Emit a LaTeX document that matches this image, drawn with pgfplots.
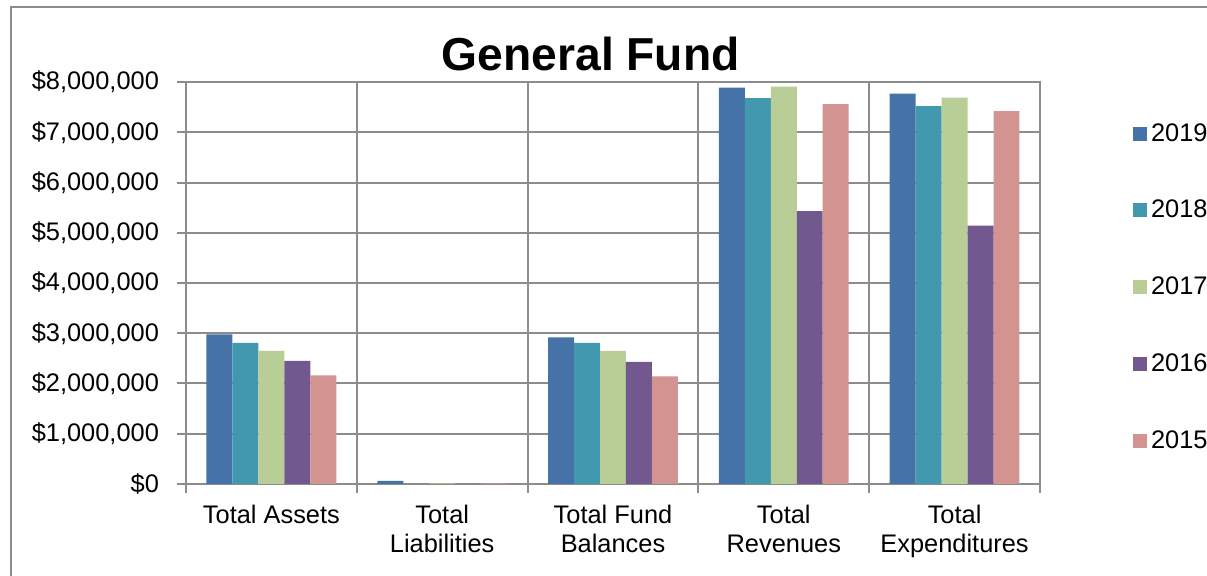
\documentclass[border=0pt]{standalone}
\usepackage{pgfplots}
\pgfplotsset{compat=1.18}
\usepackage{fontspec}
\setmainfont{Liberation Sans}

\definecolor{c2019}{HTML}{4572A7}
\definecolor{c2018}{HTML}{4198AF}
\definecolor{c2017}{HTML}{B9CE96}
\definecolor{c2016}{HTML}{71588F}
\definecolor{c2015}{HTML}{D39391}
\definecolor{gridgray}{HTML}{8C8C8C}

\begin{document}
\begin{tikzpicture}[font=\fontsize{12.7}{14.5}\selectfont]
\useasboundingbox (0,0) rectangle (603.5pt,288pt);
\clip (0,0) rectangle (603.5pt,288pt);
\draw[gridgray, line width=1pt] (5.5pt,-10pt) -- (5.5pt,284.5pt) -- (700pt,284.5pt);
\begin{axis}[
    at={(93pt,46pt)}, anchor=south west,
    scale only axis,
    width=427pt, height=201pt,
    ybar=0pt,
    bar width=0.152,
    xmin=-0.5, xmax=4.5,
    ymin=0, ymax=8000000,
    ytick distance=1000000,
    scaled y ticks=false,
    /pgf/number format/assume math mode=true,
    yticklabel={\$\pgfmathprintnumber[fixed,precision=0,1000 sep={,}]{\tick}},
    yticklabel style={xshift=-5.5pt},
    xtick={-0.5,0.5,1.5,2.5,3.5,4.5},
    xticklabels={},
    extra x ticks={0,1,2,3,4},
    extra x tick labels={Total Assets,{Total\\Liabilities},{Total Fund\\Balances},{Total\\Revenues},{Total\\Expenditures}},
    extra x tick style={major tick length=0pt, grid=none,
        xticklabel style={align=center, yshift=-7pt,
            font=\fontsize{12.7}{14.5}\selectfont}},
    xmajorgrids, ymajorgrids,
    grid style={gridgray, line width=1pt},
    axis line style={gridgray, line width=1pt},
    tick style={gridgray, line width=1pt},
    tick align=outside,
    xtick pos=bottom, ytick pos=left,
    major tick length=4.5pt,
    title={\fontsize{23.1}{26}\selectfont\bfseries General Fund},
    title style={at={(0.474,1.040)}, anchor=center},
    legend style={at={(1.1085,0.908)}, anchor=north west, draw=none,
        fill=none, inner sep=0pt, row sep=24pt,
        nodes={inner sep=2pt}},
    legend cell align=left,
    legend image code/.code={\fill[#1] (0pt,-3.5pt) rectangle (7pt,3.5pt);},
]
\addplot[draw=none, fill=c2019] coordinates {(0,2980000) (1,60000) (2,2920000) (3,7890000) (4,7770000)};
\addplot[draw=none, fill=c2018] coordinates {(0,2810000) (1,0) (2,2810000) (3,7680000) (4,7520000)};
\addplot[draw=none, fill=c2017] coordinates {(0,2650000) (1,10000) (2,2650000) (3,7910000) (4,7690000)};
\addplot[draw=none, fill=c2016] coordinates {(0,2450000) (1,0) (2,2430000) (3,5430000) (4,5140000)};
\addplot[draw=none, fill=c2015] coordinates {(0,2160000) (1,10000) (2,2140000) (3,7560000) (4,7420000)};
\legend{2019,2018,2017,2016,2015}
\end{axis}
\end{tikzpicture}
\end{document}
